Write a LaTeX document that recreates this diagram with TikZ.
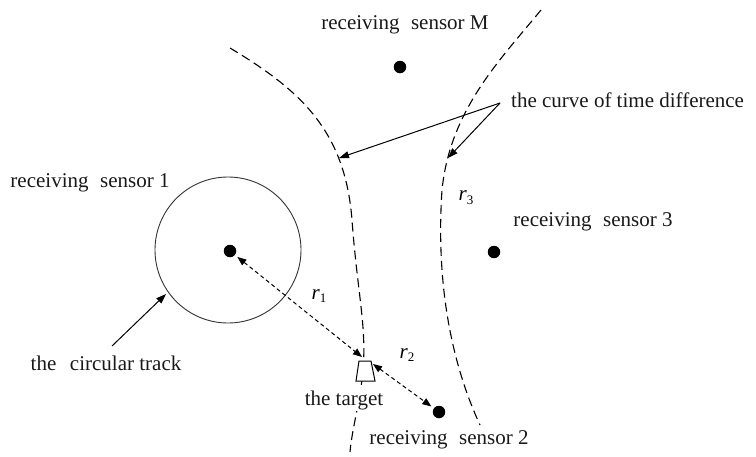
\documentclass[tikz,border=0pt]{standalone}
\usepackage{fontspec}
\setmainfont{Liberation Serif}
\usetikzlibrary{arrows.meta}
\newcommand{\gp}{\hspace{0.55em}}
\newcommand{\rsub}[1]{\textit{r}\raisebox{-0.4ex}{\upshape\fontsize{13}{13}\selectfont #1}}
\begin{document}
\begin{tikzpicture}[x=1pt,y=-1pt,
  lbl/.style={font=\fontsize{21}{24}\selectfont, inner sep=0pt, text=black!90},
  rlbl/.style={font=\fontsize{21}{24}\selectfont, inner sep=0pt},
  dot/.style={circle, fill=black, inner sep=0pt, minimum size=12.5pt},
  hyp/.style={line width=1.1pt, dash pattern=on 9pt off 5pt},
  darrow/.style={line width=1pt, dash pattern=on 4pt off 3pt, {Triangle[length=9pt,width=7pt]}-{Triangle[length=9pt,width=7pt]}},
  parrow/.style={line width=1pt, -{Triangle[length=10pt,width=7pt]}}]
\useasboundingbox (0,0) rectangle (756,456);
% hyperbola-like dashed curves
\draw[hyp] (230,48) .. controls (300,90) and (345,130) .. (352,220)
  .. controls (358,300) and (368,330) .. (362,380)
  .. controls (358,410) and (352,430) .. (350,452);
\draw[hyp] (541,10) .. controls (500,60) and (450,110) .. (442,190)
  .. controls (436,280) and (450,360) .. (480,425);
% circle track
\draw[line width=0.9pt, black!80] (228,250) circle[radius=73];
% sensors
\node[dot] (s1) at (230,251) {};
\node[dot] (sM) at (400,67) {};
\node[dot] (s3) at (494,252) {};
\node[dot] (s2) at (439,412) {};
% target
\draw[line width=1pt, fill=white] (359,361) -- (371,361) -- (375,381) -- (356,381) -- cycle;
\coordinate (t1) at (362,357);
\coordinate (t2) at (373,364);
\draw[darrow, shorten <=3pt] (s1) -- (t1);
\draw[darrow, shorten >=3pt] (t2) -- (s2);
% labels
\node[lbl] (lM) at (405,25) {receiving\gp sensor M};
\node[lbl] (l1) at (90,183) {receiving\gp sensor 1};
\node[lbl] (l3) at (593,222) {receiving\gp sensor 3};
\node[lbl] (l2) at (449,440) {receiving\gp sensor 2};
\node[lbl, fill=white, inner sep=1pt] (lt) at (344,400) {the target};
\node[lbl] (lc) at (106,363) {the\hspace{0.65em}circular track};
\node[lbl, anchor=west] (lcurve) at (511,100) {the curve of time difference};
\node[rlbl] (r1) at (319,296) {\rsub{1}};
\node[rlbl] (r2) at (407,355) {\rsub{2}};
\node[rlbl] (r3) at (466,198) {\rsub{3}};
% pointer arrows
\coordinate (cp) at (500,103);
\coordinate (ca) at (339,158);
\coordinate (cb) at (448,158);
\draw[parrow] (cp) -- (ca);
\draw[parrow] (cp) -- (cb);
\coordinate (tp) at (112,346);
\coordinate (ta) at (166,294);
\draw[parrow] (tp) -- (ta);
\end{tikzpicture}
\end{document}
